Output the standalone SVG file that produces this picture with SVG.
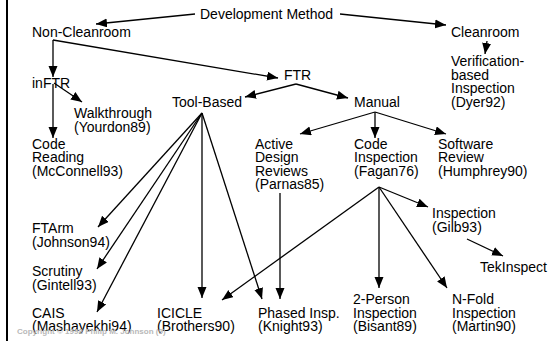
<svg xmlns="http://www.w3.org/2000/svg" width="560" height="341" viewBox="0 0 560 341">
<style>
text{font-family:"Liberation Sans",Arial,sans-serif;font-size:14px;fill:#000}
.c line{stroke:#000;stroke-width:1.3;fill:none}
.cp{font-size:8px;font-weight:bold;fill:#b8b8b8}
</style>
<defs>
<marker id="a" markerUnits="userSpaceOnUse" markerWidth="12" markerHeight="10" refX="11" refY="4.5" orient="auto"><path d="M0,0 L11,4.5 L0,9 z" fill="#000"/></marker>
</defs>
<rect width="560" height="341" fill="#fff"/>
<line x1="7" y1="0" x2="7" y2="341" stroke="#000" stroke-width="2"/>
<g class="c" marker-end="url(#a)">
<line x1="195" y1="14" x2="96" y2="24"/>
<line x1="340" y1="14" x2="446" y2="25"/>
<line x1="487" y1="41" x2="485" y2="54"/>
<line x1="53" y1="40" x2="53" y2="77"/>
<line x1="53" y1="40" x2="278" y2="78"/>
<line x1="296" y1="84" x2="245" y2="97"/>
<line x1="296" y1="84" x2="348" y2="98"/>
<line x1="54" y1="83" x2="82" y2="102"/>
<line x1="53" y1="84" x2="53" y2="138"/>
<line x1="202" y1="113" x2="98" y2="227"/>
<line x1="202" y1="113" x2="97" y2="269"/>
<line x1="202" y1="113" x2="97" y2="312"/>
<line x1="202" y1="113" x2="202" y2="298"/>
<line x1="202" y1="113" x2="262" y2="299"/>
<line x1="375" y1="112" x2="300" y2="134"/>
<line x1="375" y1="112" x2="375" y2="138"/>
<line x1="375" y1="112" x2="446" y2="134"/>
<line x1="280" y1="193" x2="280" y2="299"/>
<line x1="379" y1="187" x2="428" y2="207"/>
<line x1="379" y1="187" x2="222" y2="300"/>
<line x1="379" y1="187" x2="379" y2="288"/>
<line x1="379" y1="187" x2="447" y2="288"/>
<line x1="467" y1="239" x2="503" y2="256"/>
</g>
<g id="dev"><text x="200" y="19">Development Method</text></g>
<g id="noncleanroom"><text x="32" y="37">Non-Cleanroom</text></g>
<g id="cleanroom"><text x="451" y="37">Cleanroom</text></g>
<g id="vbi"><text x="451" y="66">Verification-<tspan x="451" dy="13.5">based</tspan><tspan x="451" dy="13.5">Inspection</tspan><tspan x="451" dy="13.5">(Dyer92)</tspan></text></g>
<g id="inftr"><text x="32" y="88">inFTR</text></g>
<g id="ftr"><text x="284" y="80">FTR</text></g>
<g id="toolbased"><text x="172" y="107">Tool-Based</text></g>
<g id="manual"><text x="354" y="107">Manual</text></g>
<g id="walkthrough"><text x="74" y="118">Walkthrough<tspan x="74" dy="13.5">(Yourdon89)</tspan></text></g>
<g id="codereading"><text x="32" y="148.5">Code<tspan x="32" dy="13.5">Reading</tspan><tspan x="32" dy="13.5">(McConnell93)</tspan></text></g>
<g id="adr"><text x="255" y="148.5">Active<tspan x="255" dy="13.5">Design</tspan><tspan x="255" dy="13.5">Reviews</tspan><tspan x="255" dy="13.5">(Parnas85)</tspan></text></g>
<g id="codeinspection"><text x="354" y="148.5">Code<tspan x="354" dy="13.5">Inspection</tspan><tspan x="354" dy="13.5">(Fagan76)</tspan></text></g>
<g id="softwarereview"><text x="438" y="148.5">Software<tspan x="438" dy="13.5">Review</tspan><tspan x="438" dy="13.5">(Humphrey90)</tspan></text></g>
<g id="gilb"><text x="432" y="218">Inspection<tspan x="432" dy="13.5">(Gilb93)</tspan></text></g>
<g id="tekinspect"><text x="480" y="272">TekInspect</text></g>
<g id="ftarm"><text x="32" y="233">FTArm<tspan x="32" dy="13.5">(Johnson94)</tspan></text></g>
<g id="scrutiny"><text x="32" y="276">Scrutiny<tspan x="32" dy="13.5">(Gintell93)</tspan></text></g>
<g id="cais"><text x="32" y="317.5">CAIS<tspan x="32" dy="13.5">(Mashayekhi94)</tspan></text></g>
<g id="icicle"><text x="157" y="317.5">ICICLE<tspan x="157" dy="13.5">(Brothers90)</tspan></text></g>
<g id="phased"><text x="258" y="317.5">Phased Insp.<tspan x="258" dy="13.5">(Knight93)</tspan></text></g>
<g id="twoperson"><text x="353" y="304">2-Person<tspan x="353" dy="13.5">Inspection</tspan><tspan x="353" dy="13.5">(Bisant89)</tspan></text></g>
<g id="nfold"><text x="452" y="304">N-Fold<tspan x="452" dy="13.5">Inspection</tspan><tspan x="452" dy="13.5">(Martin90)</tspan></text></g>
<text class="cp" x="17" y="334">Copyright © 1998 Philip M. Johnson  (9)</text>
</svg>
